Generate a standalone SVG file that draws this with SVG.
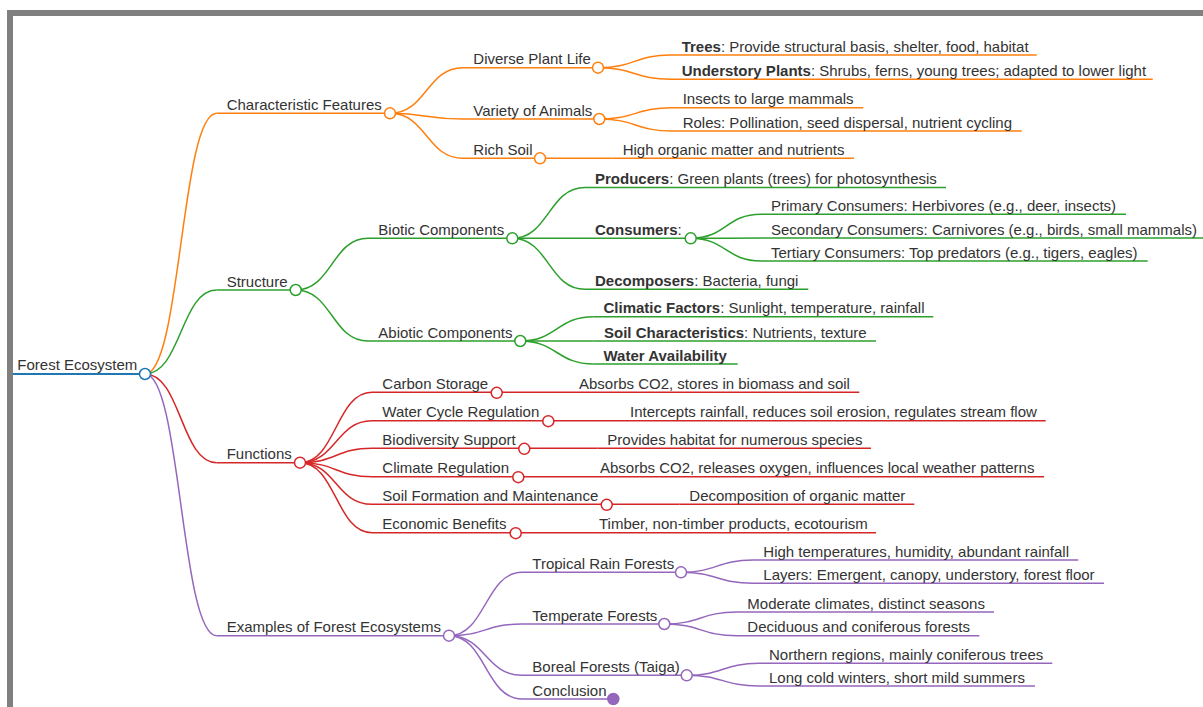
<svg xmlns="http://www.w3.org/2000/svg" width="1203" height="707" viewBox="0 0 1203 707">
<style>
.t{font-family:"Liberation Sans",Arial,sans-serif;font-size:15px;fill:#333}
.b{font-weight:bold}
.ln{fill:none;stroke-width:1.6}
.lk{fill:none;stroke-width:1.5}
.c{fill:#fff;stroke-width:1.5}
.bl{stroke:#1f77b4}.o{stroke:#ff7f0e}.g{stroke:#2ca02c}.r{stroke:#d62728}.p{stroke:#9467bd}
</style>
<rect x="7" y="10" width="1196" height="697" fill="#808080"/>
<rect x="13" y="16" width="1190" height="691" fill="#fff"/>
<g id="connectors">
<path class="lk o" d="M145,374C180.9,374 180.9,113.3 216.7,113.3"/>
<path class="lk g" d="M145,374C180.9,374 180.9,290 216.7,290"/>
<path class="lk r" d="M145,374C180.9,374 180.9,462.7 216.7,462.7"/>
<path class="lk p" d="M145,374C180.9,374 180.9,635.7 216.7,635.7"/>
<path class="lk o" d="M390,113.3C426.5,113.3 426.5,67.7 463,67.7"/>
<path class="lk o" d="M390,113.3C426.5,113.3 426.5,119 463,119"/>
<path class="lk o" d="M390,113.3C426.5,113.3 426.5,158.3 463,158.3"/>
<path class="lk o" d="M598,67.7C634.5,67.7 634.5,55 671,55"/>
<path class="lk o" d="M598,67.7C634.5,67.7 634.5,79.3 671,79.3"/>
<path class="lk o" d="M599.3,119C635.6,119 635.6,107.7 672,107.7"/>
<path class="lk o" d="M599.3,119C635.6,119 635.6,131 672,131"/>
<path class="lk o" d="M540,158.3L612.7,158.3"/>
<path class="lk g" d="M295.7,290C331.9,290 331.9,238.3 368,238.3"/>
<path class="lk g" d="M295.7,290C331.9,290 331.9,341 368,341"/>
<path class="lk g" d="M512.3,238.3C548.7,238.3 548.7,187.5 585,187.5"/>
<path class="lk g" d="M512.3,238.3L585,238.3"/>
<path class="lk g" d="M512.3,238.3C548.7,238.3 548.7,289.3 585,289.3"/>
<path class="lk g" d="M690.7,238.3C725.9,238.3 725.9,214.3 761,214.3"/>
<path class="lk g" d="M690.7,238.3C725.9,238.3 725.9,238 761,238"/>
<path class="lk g" d="M690.7,238.3C725.9,238.3 725.9,261 761,261"/>
<path class="lk g" d="M520.3,341C556.9,341 556.9,316.7 593.5,316.7"/>
<path class="lk g" d="M520.3,341L593.5,341"/>
<path class="lk g" d="M520.3,341C556.9,341 556.9,364 593.5,364"/>
<path class="lk r" d="M300,462.7C336,462.7 336,392.3 372,392.3"/>
<path class="lk r" d="M300,462.7C336,462.7 336,420.7 372,420.7"/>
<path class="lk r" d="M300,462.7C336,462.7 336,448.3 372,448.3"/>
<path class="lk r" d="M300,462.7C336,462.7 336,476.7 372,476.7"/>
<path class="lk r" d="M300,462.7C336,462.7 336,504.3 372,504.3"/>
<path class="lk r" d="M300,462.7C336,462.7 336,532.7 372,532.7"/>
<path class="lk r" d="M496.7,392.3L569,392.3"/>
<path class="lk r" d="M548.3,420.7L620,420.7"/>
<path class="lk r" d="M524.3,448.3L597.3,448.3"/>
<path class="lk r" d="M518.3,476.7L590,476.7"/>
<path class="lk r" d="M606.7,504.3L679.3,504.3"/>
<path class="lk r" d="M515.7,532.7L589,532.7"/>
<path class="lk p" d="M449,635.7C485.5,635.7 485.5,572.3 522,572.3"/>
<path class="lk p" d="M449,635.7C485.5,635.7 485.5,624 522,624"/>
<path class="lk p" d="M449,635.7C485.5,635.7 485.5,675.3 522,675.3"/>
<path class="lk p" d="M449,635.7C485.5,635.7 485.5,699 522,699"/>
<path class="lk p" d="M681,572.3C717,572.3 717,560 753,560"/>
<path class="lk p" d="M681,572.3C717,572.3 717,583.3 753,583.3"/>
<path class="lk p" d="M664.3,624C700.7,624 700.7,612 737,612"/>
<path class="lk p" d="M664.3,624C700.7,624 700.7,635.7 737,635.7"/>
<path class="lk p" d="M686.7,675.3C722.9,675.3 722.9,663.3 759,663.3"/>
<path class="lk p" d="M686.7,675.3C722.9,675.3 722.9,686 759,686"/>
</g>
<g id="n-root"><path class="ln bl" d="M13,374H145" style="stroke-width:2"/><text class="t" x="17.3" y="370.3">Forest Ecosystem</text><circle class="c bl" cx="145" cy="374" r="5.5"/></g>
<g id="n-cf"><path class="ln o" d="M216.7,113.3H390"/><text class="t" x="226.7" y="109.8">Characteristic Features</text><circle class="c o" cx="390" cy="113.3" r="5.5"/></g>
<g id="n-dpl"><path class="ln o" d="M463,67.7H598"/><text class="t" x="473.3" y="64.2">Diverse Plant Life</text><circle class="c o" cx="598" cy="67.7" r="5.5"/></g>
<g id="n-trees"><path class="ln o" d="M671,55H1036.7"/><text class="t" x="681.7" y="51.5"><tspan class="b">Trees</tspan>: Provide structural basis, shelter, food, habitat</text></g>
<g id="n-under"><path class="ln o" d="M671,79.3H1152.7"/><text class="t" x="681.7" y="75.8"><tspan class="b">Understory Plants</tspan>: Shrubs, ferns, young trees; adapted to lower light</text></g>
<g id="n-voa"><path class="ln o" d="M463,119H599.3"/><text class="t" x="473.3" y="115.5">Variety of Animals</text><circle class="c o" cx="599.3" cy="119" r="5.5"/></g>
<g id="n-insects"><path class="ln o" d="M672,107.7H863.3"/><text class="t" x="682.7" y="104.2">Insects to large mammals</text></g>
<g id="n-roles"><path class="ln o" d="M672,131H1021.7"/><text class="t" x="682.7" y="127.5">Roles: Pollination, seed dispersal, nutrient cycling</text></g>
<g id="n-richsoil"><path class="ln o" d="M463,158.3H540"/><text class="t" x="473.3" y="154.8">Rich Soil</text><circle class="c o" cx="540" cy="158.3" r="5.5"/></g>
<g id="n-organic"><path class="ln o" d="M612.7,158.3H854"/><text class="t" x="622.7" y="154.8">High organic matter and nutrients</text></g>
<g id="n-structure"><path class="ln g" d="M216.7,290H295.7"/><text class="t" x="226.7" y="286.5">Structure</text><circle class="c g" cx="295.7" cy="290" r="5.5"/></g>
<g id="n-biotic"><path class="ln g" d="M368,238.3H512.3"/><text class="t" x="378.3" y="234.8">Biotic Components</text><circle class="c g" cx="512.3" cy="238.3" r="5.5"/></g>
<g id="n-producers"><path class="ln g" d="M585,187.5H946"/><text class="t" x="595" y="184"><tspan class="b">Producers</tspan>: Green plants (trees) for photosynthesis</text></g>
<g id="n-consumers"><path class="ln g" d="M585,238.3H690.7"/><text class="t" x="595" y="234.8"><tspan class="b">Consumers</tspan>:</text><circle class="c g" cx="690.7" cy="238.3" r="5.5"/></g>
<g id="n-primary"><path class="ln g" d="M761,214.3H1126"/><text class="t" x="771" y="210.8">Primary Consumers: Herbivores (e.g., deer, insects)</text></g>
<g id="n-secondary"><path class="ln g" d="M761,238H1203"/><text class="t" x="771" y="234.5">Secondary Consumers: Carnivores (e.g., birds, small mammals)</text></g>
<g id="n-tertiary"><path class="ln g" d="M761,261H1147.7"/><text class="t" x="771" y="257.5">Tertiary Consumers: Top predators (e.g., tigers, eagles)</text></g>
<g id="n-decomposers"><path class="ln g" d="M585,289.3H808.3"/><text class="t" x="595" y="285.8"><tspan class="b">Decomposers</tspan>: Bacteria, fungi</text></g>
<g id="n-abiotic"><path class="ln g" d="M368,341H520.3"/><text class="t" x="378.3" y="337.5">Abiotic Components</text><circle class="c g" cx="520.3" cy="341" r="5.5"/></g>
<g id="n-climatic"><path class="ln g" d="M593.5,316.7H933.3"/><text class="t" x="603.5" y="313.2"><tspan class="b">Climatic Factors</tspan>: Sunlight, temperature, rainfall</text></g>
<g id="n-soilchar"><path class="ln g" d="M593.5,341H876"/><text class="t" x="604" y="337.5"><tspan class="b">Soil Characteristics</tspan>: Nutrients, texture</text></g>
<g id="n-water"><path class="ln g" d="M593.5,364H737.7"/><text class="t b" x="603.5" y="360.5">Water Availability</text></g>
<g id="n-functions"><path class="ln r" d="M216.7,462.7H300"/><text class="t" x="226.7" y="459.2">Functions</text><circle class="c r" cx="300" cy="462.7" r="5.5"/></g>
<g id="n-carbon"><path class="ln r" d="M372,392.3H496.7"/><text class="t" x="382.3" y="388.8">Carbon Storage</text><circle class="c r" cx="496.7" cy="392.8" r="5.5"/></g>
<g id="n-carbon-l"><path class="ln r" d="M569,392.3H859.3"/><text class="t" x="579" y="388.8">Absorbs CO2, stores in biomass and soil</text></g>
<g id="n-wcycle"><path class="ln r" d="M372,420.7H548.3"/><text class="t" x="382.3" y="417.2">Water Cycle Regulation</text><circle class="c r" cx="548.3" cy="421.2" r="5.5"/></g>
<g id="n-wcycle-l"><path class="ln r" d="M620,420.7H1045.7"/><text class="t" x="630" y="417.2">Intercepts rainfall, reduces soil erosion, regulates stream flow</text></g>
<g id="n-biodiv"><path class="ln r" d="M372,448.3H524.3"/><text class="t" x="382.3" y="444.8">Biodiversity Support</text><circle class="c r" cx="524.3" cy="448.8" r="5.5"/></g>
<g id="n-biodiv-l"><path class="ln r" d="M597.3,448.3H871"/><text class="t" x="607.3" y="444.8">Provides habitat for numerous species</text></g>
<g id="n-climate"><path class="ln r" d="M372,476.7H518.3"/><text class="t" x="382.3" y="473.2">Climate Regulation</text><circle class="c r" cx="518.3" cy="477.2" r="5.5"/></g>
<g id="n-climate-l"><path class="ln r" d="M590,476.7H1044"/><text class="t" x="600" y="473.2">Absorbs CO2, releases oxygen, influences local weather patterns</text></g>
<g id="n-soilform"><path class="ln r" d="M372,504.3H606.7"/><text class="t" x="382.3" y="500.8">Soil Formation and Maintenance</text><circle class="c r" cx="606.7" cy="504.8" r="5.5"/></g>
<g id="n-soilform-l"><path class="ln r" d="M679.3,504.3H914.3"/><text class="t" x="689.3" y="500.8">Decomposition of organic matter</text></g>
<g id="n-econ"><path class="ln r" d="M372,532.7H515.7"/><text class="t" x="382.3" y="529.2">Economic Benefits</text><circle class="c r" cx="515.7" cy="533.2" r="5.5"/></g>
<g id="n-econ-l"><path class="ln r" d="M589,532.7H876"/><text class="t" x="599" y="529.2">Timber, non-timber products, ecotourism</text></g>
<g id="n-examples"><path class="ln p" d="M216.7,635.7H449"/><text class="t" x="226.7" y="632.2">Examples of Forest Ecosystems</text><circle class="c p" cx="449" cy="635.7" r="5.5"/></g>
<g id="n-tropical"><path class="ln p" d="M522,572.3H681"/><text class="t" x="532.3" y="568.8">Tropical Rain Forests</text><circle class="c p" cx="681" cy="572.3" r="5.5"/></g>
<g id="n-trop1"><path class="ln p" d="M753,560H1078.3"/><text class="t" x="763.3" y="556.5">High temperatures, humidity, abundant rainfall</text></g>
<g id="n-trop2"><path class="ln p" d="M753,583.3H1104"/><text class="t" x="763.3" y="579.8">Layers: Emergent, canopy, understory, forest floor</text></g>
<g id="n-temperate"><path class="ln p" d="M522,624H664.3"/><text class="t" x="532.3" y="620.5">Temperate Forests</text><circle class="c p" cx="664.3" cy="624" r="5.5"/></g>
<g id="n-temp1"><path class="ln p" d="M737,612H994"/><text class="t" x="747.3" y="608.5">Moderate climates, distinct seasons</text></g>
<g id="n-temp2"><path class="ln p" d="M737,635.7H979.3"/><text class="t" x="747.3" y="632.2">Deciduous and coniferous forests</text></g>
<g id="n-boreal"><path class="ln p" d="M522,675.3H686.7"/><text class="t" x="532.3" y="671.8">Boreal Forests (Taiga)</text><circle class="c p" cx="686.7" cy="675.3" r="5.5"/></g>
<g id="n-bor1"><path class="ln p" d="M759,663.3H1052.3"/><text class="t" x="769" y="659.8">Northern regions, mainly coniferous trees</text></g>
<g id="n-bor2"><path class="ln p" d="M759,686H1035"/><text class="t" x="769" y="682.5">Long cold winters, short mild summers</text></g>
<g id="n-conclusion"><path class="ln p" d="M522,699H613.3"/><text class="t" x="532.3" y="695.5">Conclusion</text><circle class="c p" cx="613.3" cy="699" r="5.5" style="fill:#9467bd"/></g>
</svg>
